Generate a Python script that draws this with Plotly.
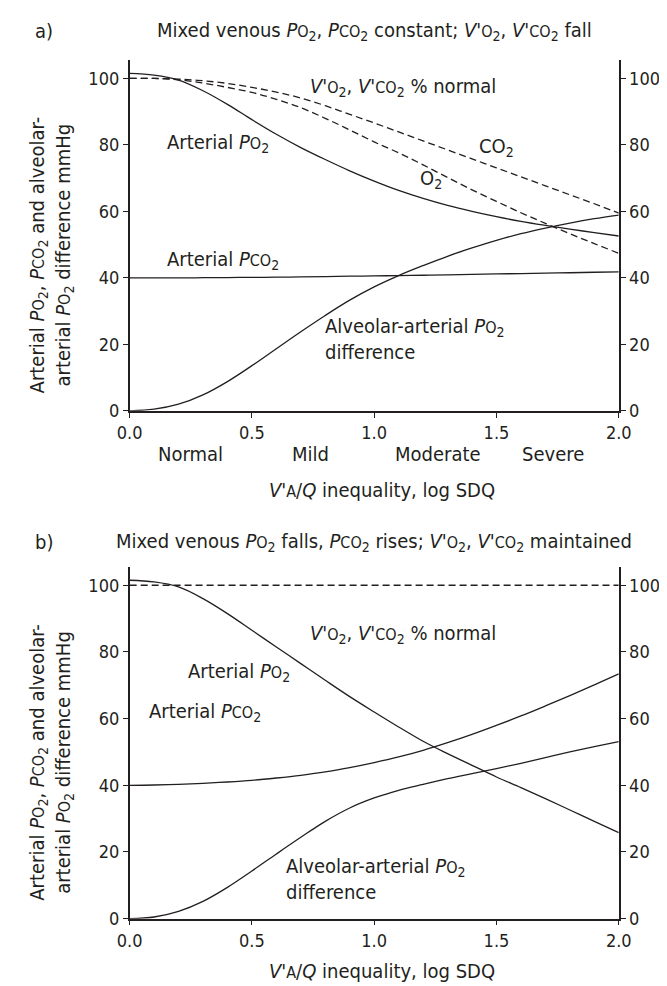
import plotly.graph_objects as go

# ---------------- data ----------------
log_sdq = [0.0, 0.1, 0.2, 0.3, 0.4, 0.5, 0.6, 0.7, 0.8, 0.9, 1.0,
           1.1, 1.2, 1.3, 1.4, 1.5, 1.6, 1.7, 1.8, 1.9, 2.0]

# Panel a: mixed venous PO2, PCO2 constant; VO2, VCO2 fall
a_arterial_po2 = [101.5, 101.0, 99.5, 96.3, 92.2, 87.6, 83.2, 79.2, 75.6, 72.2, 69.1,
                  66.3, 63.9, 61.8, 60.0, 58.4, 57.0, 55.8, 54.7, 53.6, 52.6]
a_arterial_pco2 = [40.0, 40.0, 40.0, 40.05, 40.1, 40.15, 40.2, 40.3, 40.4, 40.5, 40.6,
                   40.7, 40.8, 40.9, 41.05, 41.2, 41.3, 41.45, 41.55, 41.7, 41.8]
a_aa_diff = [0.0, 0.5, 2.0, 4.8, 8.8, 13.6, 18.7, 23.8, 28.7, 33.3, 37.3,
             40.7, 43.7, 46.5, 49.0, 51.3, 53.3, 55.0, 56.5, 57.8, 58.9]
a_vco2_pct = [100.0, 100.0, 99.8, 99.3, 98.5, 97.3, 95.9, 94.1, 91.8, 89.2, 86.6,
              83.9, 81.2, 78.5, 75.8, 73.1, 70.4, 67.7, 65.0, 62.3, 59.5]
a_vo2_pct = [100.0, 100.0, 99.6, 98.6, 97.3, 95.8, 93.7, 91.2, 88.0, 84.5, 80.9,
             77.6, 74.0, 70.2, 66.5, 63.0, 59.6, 56.4, 53.3, 50.3, 47.4]

# Panel b: mixed venous PO2 falls, PCO2 rises; VO2, VCO2 maintained
b_arterial_po2 = [101.5, 101.0, 99.5, 96.0, 91.5, 86.5, 81.5, 76.5, 71.5, 66.6, 62.0,
                  57.5, 53.2, 49.5, 46.0, 42.5, 39.3, 36.0, 32.6, 29.2, 25.8]
b_arterial_pco2 = [40.0, 40.1, 40.3, 40.6, 41.0, 41.5, 42.2, 43.0, 44.0, 45.3, 46.8,
                   48.5, 50.5, 52.8, 55.3, 58.0, 60.8, 63.8, 66.9, 70.1, 73.4]
b_aa_diff = [0.0, 0.5, 2.2, 5.2, 9.4, 14.3, 19.4, 24.4, 29.2, 33.2, 36.2,
             38.5, 40.3, 42.0, 43.5, 45.0, 46.6, 48.3, 50.0, 51.6, 53.1]
b_v_pct = [100.0] * 21

x_tickvals = [0.0, 0.5, 1.0, 1.5, 2.0]
y_tickvals = [0, 20, 40, 60, 80, 100]
severity_labels = ["Normal", "Mild", "Moderate", "Severe"]
severity_pos = [0.25, 0.74, 1.26, 1.73]

# ---------------- style ----------------
W, H = 667, 986
INK = "#231f20"
FONT = "DejaVu Sans Condensed"
FS = 20
TFS = 18
SM = "font-size:16px"

PO2 = f"<i>P</i><span style='{SM}'>O</span><sub>2</sub>"
PCO2 = f"<i>P</i><span style='{SM}'>CO</span><sub>2</sub>"
VO2 = f"<i>V'</i><span style='{SM}'>O</span><sub>2</sub>"
VCO2 = f"<i>V'</i><span style='{SM}'>CO</span><sub>2</sub>"
XTITLE = f"<i>V'</i><span style='{SM}'>A</span>/<i>Q</i> inequality, log SDQ"
YTITLE = f"Arterial {PO2}, {PCO2} and alveolar-<br>arterial {PO2} difference mmHg"

def px_x(p):
    return p / W

def px_y(p):
    return 1 - p / H

xdom = [px_x(113), px_x(622)]
ydom_a = [px_y(407), px_y(53)]
ydom_b = [px_y(920), px_y(565)]
YR = [0, 105.4]

fig = go.Figure()

def line(x, y, xa, ya, dash="solid"):
    fig.add_trace(go.Scatter(x=x, y=y, xaxis=xa, yaxis=ya, mode="lines",
                             line=dict(color=INK, width=1.3, dash=dash, shape="spline", smoothing=1.0),
                             showlegend=False, hoverinfo="skip"))

DASH = "7px,4px"
line(log_sdq, a_arterial_po2, "x", "y")
line(log_sdq, a_arterial_pco2, "x", "y")
line(log_sdq, a_aa_diff, "x", "y")
line(log_sdq, a_vco2_pct, "x", "y", DASH)
line(log_sdq, a_vo2_pct, "x", "y", DASH)

line(log_sdq, b_arterial_po2, "x2", "y3")
line(log_sdq, b_arterial_pco2, "x2", "y3")
line(log_sdq, b_aa_diff, "x2", "y3")
line(log_sdq, b_v_pct, "x2", "y3", DASH)

# invisible traces to anchor right axes
fig.add_trace(go.Scatter(x=log_sdq, y=a_arterial_pco2, xaxis="x", yaxis="y2", mode="lines",
                         line=dict(width=0), opacity=0, showlegend=False, hoverinfo="skip"))
fig.add_trace(go.Scatter(x=log_sdq, y=b_arterial_pco2, xaxis="x2", yaxis="y4", mode="lines",
                         line=dict(width=0), opacity=0, showlegend=False, hoverinfo="skip"))

xcommon = dict(range=[0, 2], tickvals=x_tickvals, tickformat=".1f", ticks="outside",
               ticklen=5, tickwidth=1.3, tickcolor=INK, showline=True, linecolor=INK,
               linewidth=1.5, showgrid=False, zeroline=False, domain=xdom,
               tickfont=dict(family=FONT, size=TFS, color=INK), fixedrange=True)
ycommon = dict(range=YR, tickvals=y_tickvals, ticks="outside", ticklen=5, tickwidth=1.3,
               tickcolor=INK, showline=True, linecolor=INK, linewidth=1.5,
               showgrid=False, zeroline=False,
               tickfont=dict(family=FONT, size=TFS, color=INK), fixedrange=True)

fig.update_layout(
    width=W, height=H,
    margin=dict(l=0, r=0, t=0, b=0),
    paper_bgcolor="white", plot_bgcolor="white",
    font=dict(family=FONT, size=FS, color=INK),
    xaxis=dict(**xcommon, anchor="y"),
    yaxis=dict(**ycommon, domain=ydom_a, anchor="x", side="left"),
    yaxis2=dict(**ycommon, domain=ydom_a, anchor="x", side="right", overlaying="y"),
    xaxis2=dict(**xcommon, anchor="y3"),
    yaxis3=dict(**ycommon, domain=ydom_b, anchor="x2", side="left"),
    yaxis4=dict(**ycommon, domain=ydom_b, anchor="x2", side="right", overlaying="y3"),
)

ann = []

def txt(text, x, y, xref, yref, xanchor="left", yanchor="middle", size=FS, **kw):
    ann.append(dict(text=text, x=x, y=y, xref=xref, yref=yref, xanchor=xanchor,
                    yanchor=yanchor, showarrow=False,
                    font=dict(family=FONT, size=size, color=INK), **kw))

# panel headers
txt("a)", px_x(12), px_y(23), "paper", "paper")
txt(f"Mixed venous {PO2}, {PCO2} constant; {VO2}, {VCO2} fall", 1.0, px_y(23), "x", "paper", xanchor="center")
txt("b)", px_x(12), px_y(539), "paper", "paper")
txt(f"Mixed venous {PO2} falls, {PCO2} rises; {VO2}, {VCO2} maintained", 1.0, px_y(539), "x", "paper", xanchor="center")

# panel a labels
txt(f"{VO2}, {VCO2} % normal", 0.73, 97.5, "x", "y")
txt(f"Arterial {PO2}", 0.145, 80.5, "x", "y")
txt(f"Arterial {PCO2}", 0.145, 45.5, "x", "y")
txt("CO<sub>2</sub>", 1.42, 79.5, "x", "y")
txt("O<sub>2</sub>", 1.18, 69.6, "x", "y")
txt(f"Alveolar-arterial {PO2}<br>difference", 0.79, 21.5, "x", "y", align="left")
for lab, pos in zip(severity_labels, severity_pos):
    txt(lab, pos, 0, "x", "y", xanchor="center", yshift=-43)
txt(XTITLE, 1.03, 0, "x", "y", xanchor="center", yshift=-79)

# panel b labels
txt(f"{VO2}, {VCO2} % normal", 0.73, 85.5, "x2", "y3")
txt(f"Arterial {PO2}", 0.23, 74, "x2", "y3")
txt(f"Arterial {PCO2}", 0.07, 62, "x2", "y3")
txt(f"Alveolar-arterial {PO2}<br>difference", 0.63, 12, "x2", "y3", align="left")
txt(XTITLE, 1.03, 0, "x2", "y3", xanchor="center", yshift=-52)

# y axis titles
txt(YTITLE, px_x(31), 47, "paper", "y", xanchor="center", textangle=-90)
txt(YTITLE, px_x(31), 47, "paper", "y3", xanchor="center", textangle=-90)

fig.update_layout(annotations=ann)
fig.write_html("out.html")
